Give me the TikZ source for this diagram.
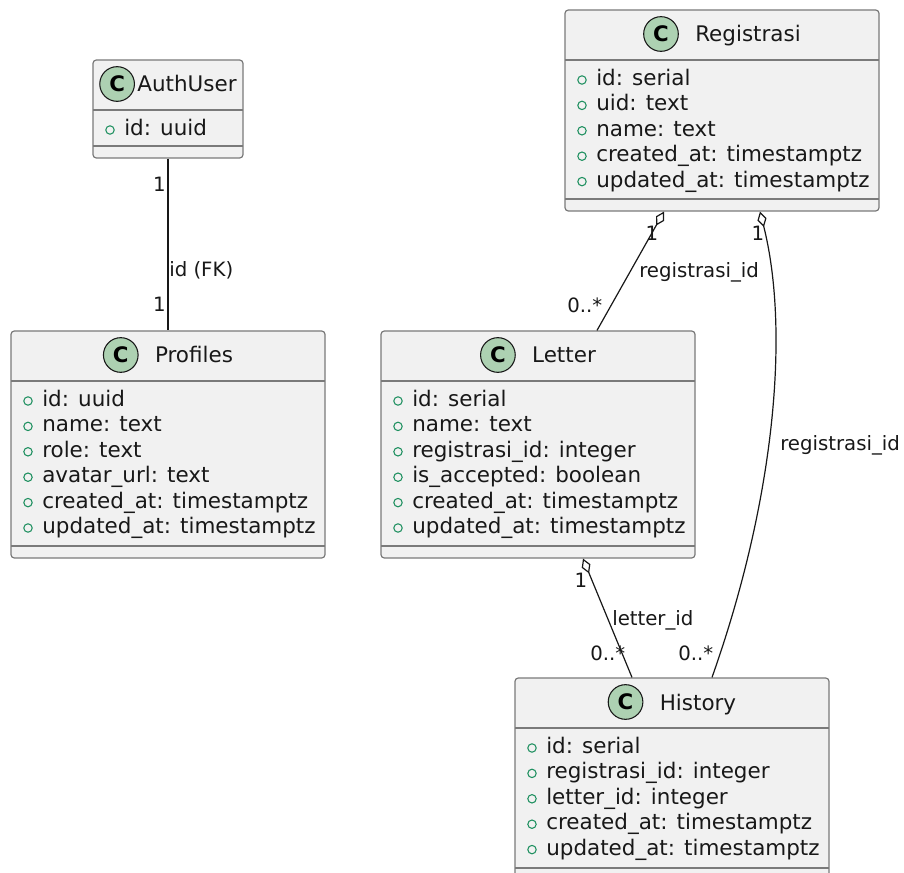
\documentclass[tikz,border=0pt]{standalone}
\usepackage{fontspec}
\setmainfont{DejaVu Sans}
\usetikzlibrary{arrows.meta,calc,fit}

\definecolor{boxfill}{HTML}{F1F1F1}
\definecolor{boxline}{HTML}{7A7A7A}
\definecolor{circfill}{HTML}{ADD1B2}
\definecolor{attrgreen}{HTML}{1F9060}
\definecolor{ink}{HTML}{181818}

\tikzset{
  classbox/.style={draw=boxline, fill=boxfill, line width=0.9pt, rounded corners=2.5pt, inner sep=0pt},
  sepline/.style={draw=boxline, line width=0.9pt},
  titletext/.style={inner sep=0pt, font=\fontsize{16.1}{19}\selectfont, text=ink},
  attrtext/.style={inner sep=0pt, anchor=base west, font=\fontsize{16.1}{19}\selectfont, text=ink},
  classicon/.style={circle, draw=ink, fill=circfill, line width=0.8pt, minimum size=26pt, inner sep=0pt,
    font=\bfseries\fontsize{16}{16}\selectfont},
  marker/.style={circle, draw=attrgreen, line width=0.8pt, minimum size=6.3pt, inner sep=0pt},
  conn/.style={draw=ink, line width=0.9pt},
  agg/.style={{Diamond[open,length=12pt,width=7pt]}-},
  lbl/.style={inner sep=0pt, font=\fontsize{14.8}{17}\selectfont, text=ink},
}

% [#1] gap from icon centre to title, #2 name, #3 left, #4 top, #5 right, #6 bottom, #7 title, #8 attributes
\newcommand\umlclass[8][34]{%
  \node[classbox, fit={(#3,#4) (#5,#6)}] (#2) {};
  \draw[sepline] (#3,{#4+50}) -- (#5,{#4+50});
  \draw[sepline] (#3,{#6-12}) -- (#5,{#6-12});
  \node[titletext, anchor=base] (#2-t) at ({(#3+#5)/2+(18+#1)/2},{#4+32}) {#7};
  \node[classicon] (#2-c) at ($(#2-t.base west)+(-#1,-8)$) {C};
  \foreach \a [count=\i from 0] in {#8} {
    \node[marker] at ({#3+17},{#4+50+25.5+\i*25.4-5.5}) {};
    \node[attrtext] at ({#3+31},{#4+50+25.5+\i*25.4}) {\a};
  }%
}

\begin{document}
\begin{tikzpicture}[x=0.75pt, y=-0.75pt]
\useasboundingbox (0,0) rectangle (904,873);
\fill[white] (0,0) rectangle (904,873);
\begin{scope}
\clip (0,0) rectangle (904,873);

% classes
\umlclass[20]{auth}{93}{60}{243}{158}{AuthUser}{id: uuid}
\umlclass{reg}{565}{10}{879}{211}{Registrasi}{id: serial, uid: text, name: text, created\_at: timestamptz, updated\_at: timestamptz}
\umlclass{prof}{11}{331}{325}{558}{Profiles}{id: uuid, name: text, role: text, avatar\_url: text, created\_at: timestamptz, updated\_at: timestamptz}
\umlclass{let}{381}{331}{695}{558}{Letter}{id: serial, name: text, registrasi\_id: integer, is\_accepted: boolean, created\_at: timestamptz, updated\_at: timestamptz}
\umlclass{hist}{515}{678}{829}{880}{History}{id: serial, registrasi\_id: integer, letter\_id: integer, created\_at: timestamptz, updated\_at: timestamptz}

% AuthUser -- Profiles
\draw[conn] (auth.south) -- (prof.north);
\node[lbl, anchor=base east] (a1) at (166,192) {1};
\node[lbl, anchor=base west] (a2) at (169,277) {id (FK)};
\node[lbl, anchor=base east] (a3) at (166,312) {1};

% Registrasi -- Letter
\draw[conn, agg] ($(reg.south)+(-58,0)$) -- ($(let.north)+(59,0)$);
\node[lbl, anchor=base] (b1) at (652,241) {1};
\node[lbl, anchor=base west] (b2) at (639,278) {registrasi\_id};
\node[lbl, anchor=base west] (b3) at (567,313) {0..*};

% Registrasi -- History
\draw[conn, agg] ($(reg.south)+(38,0)$) .. controls ($(reg.south)+(68,119)$) and ($(hist.north)+(103,-178)$) .. ($(hist.north)+(40,0)$);
\node[lbl, anchor=base] (c1) at (758,241) {1};
\node[lbl, anchor=base west] (c2) at (780,451) {registrasi\_id};
\node[lbl, anchor=base west] (c3) at (678,660) {0..*};

% Letter -- History
\draw[conn, agg] ($(let.south)+(45,0)$) -- ($(hist.north)+(-40,0)$);
\node[lbl, anchor=base] (d1) at (581,588) {1};
\node[lbl, anchor=base west] (d2) at (612,625) {letter\_id};
\node[lbl, anchor=base west] (d3) at (590,660) {0..*};
\end{scope}
\end{tikzpicture}
\end{document}
